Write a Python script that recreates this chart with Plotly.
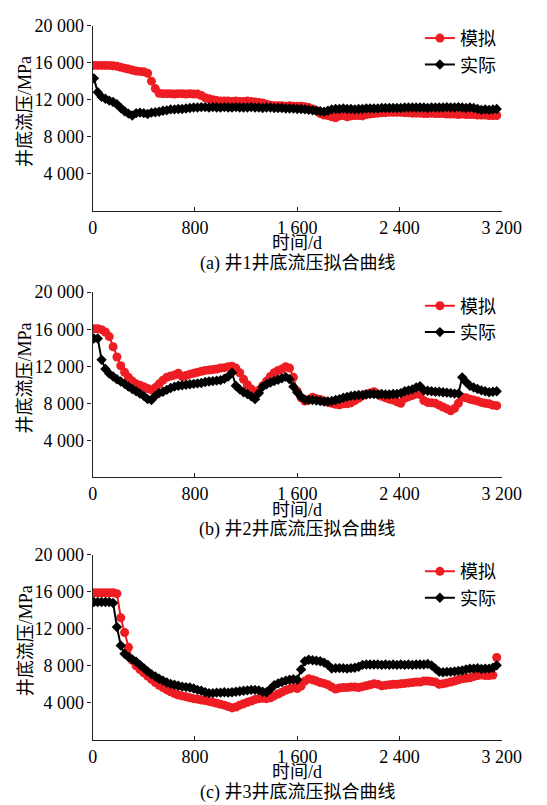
import plotly.graph_objects as go

# Time axis (days)
days = list(range(10, 3170, 30))

# Well 1
sim1 = [15700, 15700, 15700, 15700, 15700, 15650, 15600, 15500, 15400, 15300,
        15200, 15100, 15050, 15000, 14850, 14000, 13200, 12700, 12650, 12650,
        12650, 12600, 12650, 12650, 12600, 12650, 12600, 12600, 12450, 12200,
        12100, 12000, 11900, 11850, 11850, 11850, 11800, 11850, 11800, 11800,
        11850, 11800, 11750, 11700, 11650, 11500, 11400, 11350, 11350, 11350,
        11300, 11350, 11300, 11300, 11300, 11250, 11150, 11000, 10800, 10500,
        10350, 10300, 10150, 10050, 10250, 10300, 10150, 10250, 10300, 10300,
        10250, 10400, 10450, 10500, 10550, 10600, 10600, 10650, 10650, 10650,
        10650, 10600, 10600, 10550, 10550, 10550, 10500, 10500, 10550, 10500,
        10500, 10500, 10450, 10450, 10450, 10400, 10450, 10400, 10400, 10400,
        10350, 10350, 10350, 10300, 10300, 10300]
act1 = [14300, 12800, 12300, 12100, 11900, 11750, 11500, 11100, 10750, 10500,
        10300, 10550, 10600, 10550, 10450, 10600, 10650, 10700, 10800, 10850,
        10950, 10950, 11000, 11000, 11050, 11100, 11150, 11150, 11200, 11200,
        11150, 11200, 11150, 11150, 11200, 11150, 11150, 11200, 11150, 11150,
        11150, 11200, 11150, 11150, 11100, 11150, 11150, 11100, 11100, 11100,
        11050, 11050, 11050, 11000, 11000, 10950, 10900, 10850, 10800, 10750,
        10700, 10800, 10950, 11000, 11000, 11050, 11000, 11000, 10950, 11000,
        11000, 11050, 11050, 11050, 11050, 11100, 11100, 11100, 11100, 11100,
        11100, 11150, 11150, 11150, 11150, 11150, 11150, 11100, 11150, 11150,
        11150, 11150, 11200, 11150, 11150, 11200, 11150, 11100, 11150, 11100,
        11000, 10900, 10950, 10900, 10950, 11000]

# Well 2
sim2 = [16050, 16050, 15950, 15700, 15200, 14100, 13000, 12050, 11350, 10800,
        10400, 10100, 9950, 9800, 9600, 9450, 9700, 10100, 10500, 10800,
        10950, 11050, 11250, 10900, 11000, 11150, 11250, 11350, 11450, 11550,
        11600, 11650, 11700, 11800, 11850, 11950, 12000, 11800, 11300, 10600,
        10000, 9550, 9250, 9400, 9900, 10400, 10900, 11300, 11550, 11700,
        11950, 11800, 10800, 9300, 8600, 8250, 8400, 8650, 8500, 8400,
        8250, 8100, 8000, 7900, 7850, 7950, 7950, 8050, 8300, 8550,
        8800, 9000, 9100, 9250, 9000, 8750, 8600, 8450, 8350, 8150,
        8000, 8550, 8700, 8850, 9000, 8950, 8300, 8100, 8050, 8000,
        7800, 7600, 7400, 7200, 7450, 8000, 8650, 8600, 8450, 8350,
        8250, 8100, 8000, 7950, 7800, 7750]
act2 = [15000, 15000, 12700, 11700, 11200, 10900, 10600, 10350, 10100, 9800,
        9550, 9300, 9050, 8800, 8450, 8350, 8800, 9100, 9250, 9450,
        9650, 9800, 9900, 9950, 10000, 10050, 10100, 10150, 10200, 10300,
        10350, 10400, 10450, 10500, 10650, 10900, 11300, 9900, 9500, 9200,
        9000, 8750, 8450, 9100, 9800, 10050, 10250, 10400, 10550, 10700,
        10850, 10600, 9800, 9200, 8700, 8400, 8350, 8350, 8300, 8250,
        8200, 8200, 8250, 8350, 8450, 8600, 8700, 8800, 8850, 8900,
        8900, 8950, 9000, 9000, 8950, 9000, 8950, 8950, 9000, 9000,
        9100, 9300, 9400, 9500, 9700, 9850, 9400, 9350, 9300, 9250,
        9250, 9200, 9150, 9100, 9050, 9050, 10800, 10300, 9900, 9700,
        9550, 9400, 9300, 9200, 9250, 9300]

# Well 3
sim3 = [15900, 15900, 15900, 15900, 15900, 15900, 15800, 13200, 11600, 10000,
        8600, 8000, 7600, 7250, 6900, 6550, 6200, 5900, 5650, 5400,
        5200, 5000, 4850, 4750, 4650, 4550, 4450, 4400, 4300, 4250,
        4150, 4050, 3950, 3850, 3750, 3600, 3450, 3550, 3750, 3900,
        4050, 4200, 4350, 4450, 4500, 4450, 4550, 4750, 4950, 5150,
        5350, 5500, 5650, 5550, 5800, 6350, 6600, 6500, 6350, 6200,
        6100, 5950, 5700, 5500, 5600, 5650, 5650, 5700, 5700, 5650,
        5750, 5850, 5950, 6050, 6000, 5850, 5900, 5950, 6000, 6000,
        6050, 6100, 6150, 6200, 6250, 6250, 6350, 6350, 6300, 6250,
        6000, 6050, 6150, 6250, 6350, 6500, 6600, 6650, 6700, 6850,
        6950, 7000, 6950, 6950, 7000, 8900]
act3 = [14900, 14900, 14900, 14900, 14900, 14800, 12200, 10200, 9300, 8950,
        8700, 8450, 8100, 7750, 7400, 7100, 6850, 6600, 6400, 6200,
        6050, 5950, 5850, 5750, 5700, 5650, 5550, 5400, 5300, 5150,
        5050, 5050, 5100, 5100, 5150, 5100, 5150, 5200, 5250, 5300,
        5350, 5400, 5400, 5350, 5200, 5150, 5500, 5900, 6100, 6250,
        6400, 6500, 6550, 6500, 7600, 8500, 8650, 8600, 8550, 8500,
        8350, 8100, 7700, 7750, 7750, 7750, 7700, 7750, 7800, 7900,
        8100, 8150, 8150, 8150, 8150, 8100, 8150, 8100, 8150, 8100,
        8150, 8100, 8150, 8100, 8150, 8150, 8150, 8200, 8050, 7700,
        7350, 7300, 7350, 7350, 7400, 7450, 7500, 7600, 7700, 7700,
        7750, 7650, 7700, 7700, 7800, 8050]

x_tickvals = [0, 800, 1600, 2400, 3200]
x_ticktext = ["0", "800", "1 600", "2 400", "3 200"]
y_tickvals = [4000, 8000, 12000, 16000, 20000]
y_ticktext = ["4 000", "8 000", "12 000", "16 000", "20 000"]

name_sim = "模拟"
name_act = "实际"
x_title = "时间/d"
y_title = "井底流压/MPa"
captions = ["(a) 井1井底流压拟合曲线", "(b) 井2井底流压拟合曲线", "(c) 井3井底流压拟合曲线"]

W, H = 547, 805
RED = "#EE1D23"
FONT = "Liberation Serif, Noto Sans CJK SC, serif"
CJK = "Liberation Serif, Noto Sans CJK SC, sans-serif"
FS = 18

# pixel geometry of each panel: (top, bottom) of plot area, legend first-row centre
panels = [(15.7, 203.5, 23), (285.7, 473.3, 294), (551.7, 739.0, 563)]
x_left, x_right = 92.7, 520.7

fig = go.Figure()
series = [(sim1, act1), (sim2, act2), (sim3, act3)]
for k, (s, a) in enumerate(series):
    sfx = "" if k == 0 else str(k + 1)
    leg = "legend" if k == 0 else "legend" + str(k + 1)
    fig.add_trace(go.Scatter(
        x=days, y=s, name=name_sim, mode="lines+markers",
        xaxis="x" + sfx, yaxis="y" + sfx, legend=leg,
        line=dict(color=RED, width=2),
        marker=dict(symbol="circle", size=9, color=RED)))
    fig.add_trace(go.Scatter(
        x=days, y=a, name=name_act, mode="lines+markers",
        xaxis="x" + sfx, yaxis="y" + sfx, legend=leg,
        line=dict(color="black", width=2),
        marker=dict(symbol="diamond", size=8, color="black")))

layout = dict(
    width=W, height=H,
    margin=dict(l=0, r=0, t=0, b=0),
    paper_bgcolor="white", plot_bgcolor="white",
    font=dict(family=FONT, size=FS, color="black"),
    showlegend=True,
    annotations=[],
)

for k, (top, bot, legc) in enumerate(panels):
    sfx = "" if k == 0 else str(k + 1)
    xa = "xaxis" + sfx
    ya = "yaxis" + sfx
    layout[xa] = dict(
        domain=[x_left / W, x_right / W], range=[0, 3200],
        anchor="y" + sfx, showline=True, linecolor="#222", linewidth=1.3,
        ticks="inside", ticklen=4, tickcolor="#222",
        tickvals=x_tickvals, ticktext=x_ticktext,
        showgrid=False, zeroline=False,
        tickfont=dict(family=FONT, size=FS))
    layout[ya] = dict(
        domain=[1 - bot / H, 1 - top / H], range=[0, 20000],
        anchor="x" + sfx, showline=True, linecolor="#222", linewidth=1.3,
        ticks="outside", ticklen=4, tickcolor="#222",
        tickvals=y_tickvals, ticktext=y_ticktext,
        showgrid=False, zeroline=False,
        tickfont=dict(family=FONT, size=FS))
    leg = "legend" if k == 0 else "legend" + str(k + 1)
    layout[leg] = dict(
        x=435 / W, y=1 - (legc - 13) / H, xanchor="left", yanchor="top",
        bgcolor="rgba(0,0,0,0)", borderwidth=0,
        font=dict(family=CJK, size=FS), tracegroupgap=0,
        itemwidth=30)
    layout["annotations"] += [
        dict(text=x_title, x=(x_left + x_right) / 2 / W, y=1 - (bot + 32.5) / H,
             xref="paper", yref="paper", showarrow=False,
             xanchor="center", yanchor="middle", font=dict(family=FONT, size=FS)),
        dict(text=captions[k], x=(x_left + x_right) / 2 / W, y=1 - (bot + 53) / H,
             xref="paper", yref="paper", showarrow=False,
             xanchor="center", yanchor="middle", font=dict(family=FONT, size=FS)),
        dict(text=y_title, x=22.5 / W, y=1 - (top + 87) / H,
             xref="paper", yref="paper", showarrow=False, textangle=-90,
             xanchor="center", yanchor="middle", font=dict(family=FONT, size=FS)),
    ]

fig.update_layout(**layout)
fig.write_html("out.html",
               config={"displayModeBar": False},
               post_script="document.body.style.margin='0';document.body.style.padding='0';"
                           "document.documentElement.style.overflow='hidden';")
